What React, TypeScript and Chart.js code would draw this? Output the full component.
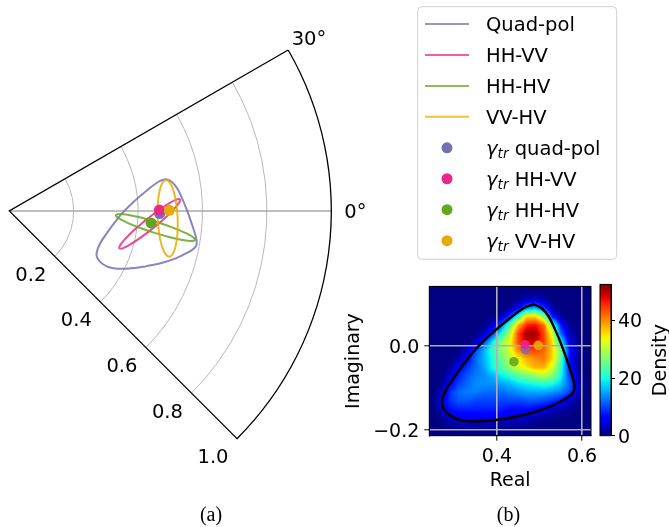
import React, { useEffect, useRef } from 'react';
import { Chart, registerables } from 'chart.js';

Chart.register(...registerables);

// ---------------- data ----------------
const SERIES_LABELS = ['Quad-pol', 'HH-VV', 'HH-HV', 'VV-HV'];
const GAMMA_LABELS = ['quad-pol', 'HH-VV', 'HH-HV', 'VV-HV'];
const SERIES_COLORS = ['#7570b3', '#e7298a', '#66a61e', '#e6ab02'];

// coherence region boundaries (real, imaginary)
const QUADPOL_RE = [0.423, 0.376, 0.336, 0.305, 0.282, 0.271, 0.275, 0.289, 0.321, 0.352, 0.391, 0.431, 0.462, 0.478, 0.489, 0.505, 0.521, 0.536, 0.552, 0.568, 0.580, 0.582, 0.576, 0.556, 0.517, 0.470, 0.423];
const QUADPOL_IM = [-0.172, -0.178, -0.179, -0.173, -0.158, -0.139, -0.116, -0.089, -0.044, -0.005, 0.033, 0.067, 0.090, 0.097, 0.098, 0.090, 0.071, 0.041, 0.002, -0.044, -0.082, -0.102, -0.114, -0.128, -0.147, -0.162, -0.172];

const HHVV_RE = [0.4253, 0.3901, 0.3619, 0.3451, 0.342, 0.3533, 0.3771, 0.4099, 0.4467, 0.4819, 0.5101, 0.5269, 0.530, 0.5187, 0.4949, 0.4621, 0.4253];
const HHVV_IM = [-0.0268, -0.0569, -0.0845, -0.1052, -0.1161, -0.1154, -0.1031, -0.0813, -0.0532, -0.0231, 0.0045, 0.0252, 0.036, 0.0354, 0.0231, 0.0013, -0.0268];

const HHHV_RE = [0.4591, 0.4117, 0.3708, 0.3425, 0.3312, 0.3385, 0.3636, 0.4023, 0.4489, 0.4963, 0.5372, 0.5655, 0.5768, 0.5695, 0.5444, 0.5057, 0.4591];
const HHHV_IM = [-0.0348, -0.0212, -0.0121, -0.0090, -0.0123, -0.0214, -0.0351, -0.0512, -0.0672, -0.0808, -0.0899, -0.0930, -0.0897, -0.0806, -0.0669, -0.0508, -0.0348];

const VVHV_RE = [0.4608, 0.4652, 0.4736, 0.4847, 0.4970, 0.5085, 0.5174, 0.5224, 0.5228, 0.5184, 0.5100, 0.4989, 0.4866, 0.4751, 0.4662, 0.4612, 0.4608];
const VVHV_IM = [-0.0241, -0.0694, -0.1078, -0.1331, -0.1417, -0.1321, -0.1058, -0.0670, -0.0213, 0.0240, 0.0624, 0.0877, 0.0963, 0.0867, 0.0604, 0.0216, -0.0241];

const GAMMA_RE = [0.467, 0.466, 0.440, 0.497];
const GAMMA_IM = [-0.008, 0.003, -0.037, 0.002];

// polar panel (a)
const R_TICKS = [0.2, 0.4, 0.6, 0.8, 1.0];
const R_TICK_LABELS = ['0.2', '0.4', '0.6', '0.8', '1.0'];
const THETA_TICKS = [0, 30];
const THETA_TICK_LABELS = ['0°', '30°'];
const THETA_MIN = -45;
const THETA_MAX = 30;
const R_MAX = 1.0;

// density panel (b)
const REAL_TICKS = [0.4, 0.6];
const REAL_TICK_LABELS = ['0.4', '0.6'];
const IMAG_TICKS = [-0.2, 0.0];
const IMAG_TICK_LABELS = ['\u22120.2', '0.0'];
const REAL_MIN = 0.241, REAL_MAX = 0.621;
const IMAG_MIN = -0.213, IMAG_MAX = 0.142;
const DENSITY_TICKS = [0, 20, 40];
const DENSITY_TICK_LABELS = ['0', '20', '40'];
const DENSITY_MAX = 52.5;

const DENS_X = [0.25, 0.27, 0.29, 0.31, 0.33, 0.35, 0.37, 0.39, 0.41, 0.43, 0.45, 0.47, 0.49, 0.51, 0.53, 0.55, 0.57, 0.59, 0.61];
const DENS_Y = [0.13, 0.11, 0.09, 0.07, 0.05, 0.03, 0.01, -0.01, -0.03, -0.05, -0.07, -0.09, -0.11, -0.13, -0.15, -0.17, -0.19, -0.21];
const DENSITY = [
  [0, 0, 0, 0, 0, 0, 0, 0, 0, 0, 0, 0, 0, 0, 0, 0, 0, 0, 0],
  [0, 0, 0, 0, 0, 0, 0, 0, 0, 0, 1, 3, 4, 2, 0, 0, 0, 0, 0],
  [0, 0, 0, 0, 0, 0, 0, 0, 0, 1, 6, 14, 16, 10, 2, 0, 0, 0, 0],
  [0, 0, 0, 0, 0, 0, 0, 0, 2, 10, 22, 36, 36, 28, 8, 1, 0, 0, 0],
  [0, 0, 0, 0, 0, 0, 0, 4, 12, 24, 38, 46, 47, 42, 25, 8, 1, 0, 0],
  [0, 0, 0, 0, 0, 0, 3, 10, 20, 30, 44, 51, 51, 44, 32, 12, 3, 0, 0],
  [0, 0, 0, 0, 0, 3, 10, 19, 27, 33, 44, 49, 49, 44, 35, 20, 5, 1, 0],
  [0, 0, 0, 0, 4, 10, 16, 22, 27, 32, 40, 44, 44, 42, 36, 26, 8, 2, 0],
  [0, 0, 0, 2, 6, 12, 16, 20, 25, 30, 34, 38, 40, 41, 36, 24, 7, 1, 0],
  [0, 0, 1, 6, 9, 12, 15, 20, 23, 28, 32, 35, 38, 38, 32, 22, 8, 1, 0],
  [0, 0, 4, 8, 11, 13, 14, 16, 19, 21, 24, 26, 28, 30, 27, 20, 10, 2, 0],
  [0, 1, 6, 10, 12, 14, 14, 14, 15, 16, 18, 19, 20, 21, 20, 17, 12, 4, 0],
  [0, 3, 9, 12, 13, 13, 12, 12, 12, 13, 14, 15, 15, 15, 14, 13, 10, 3, 0],
  [0, 5, 9, 11, 11, 10, 10, 10, 10, 10, 10, 11, 11, 10, 9, 7, 3, 1, 0],
  [0, 3, 7, 8, 8, 8, 8, 8, 8, 7, 7, 7, 6, 5, 3, 2, 1, 0, 0],
  [0, 1, 3, 5, 5, 5, 5, 5, 5, 4, 3, 3, 2, 1, 1, 0, 0, 0, 0],
  [0, 0, 1, 1, 2, 2, 2, 2, 1, 1, 1, 1, 0, 0, 0, 0, 0, 0, 0],
  [0, 0, 0, 0, 0, 0, 0, 0, 0, 0, 0, 0, 0, 0, 0, 0, 0, 0, 0],
];

// ---------------- helpers ----------------
const FONT = '"DejaVu Sans", Verdana, sans-serif';
const FS_A = 19.5;
const FS_B = 19;

function hexA(hex: string, a: number) {
  const n = parseInt(hex.slice(1), 16);
  return `rgba(${(n >> 16) & 255},${(n >> 8) & 255},${n & 255},${a})`;
}
function pts(re: number[], im: number[]) {
  return re.map((x, i) => ({ x, y: im[i] }));
}
function seg(t: number, p: number[][]) {
  for (let k = 0; k < p.length - 1; k++) {
    if (t <= p[k + 1][0]) {
      const f = (t - p[k][0]) / (p[k + 1][0] - p[k][0]);
      return p[k][1] + f * (p[k + 1][1] - p[k][1]);
    }
  }
  return p[p.length - 1][1];
}
function jet(t: number): [number, number, number] {
  t = Math.max(0, Math.min(1, t));
  return [
    seg(t, [[0, 0], [0.35, 0], [0.66, 1], [0.89, 1], [1, 0.5]]),
    seg(t, [[0, 0], [0.125, 0], [0.375, 1], [0.64, 1], [0.91, 0], [1, 0]]),
    seg(t, [[0, 0.5], [0.11, 1], [0.34, 1], [0.65, 0], [1, 0]]),
  ];
}
function centeredText(ctx: CanvasRenderingContext2D, s: string, x: number, cy: number, fs: number) {
  ctx.textAlign = 'center';
  ctx.textBaseline = 'alphabetic';
  ctx.fillText(s, x, cy + 0.365 * fs);
}

// ---------------- panel (a) plugin ----------------
const polarPlugin = {
  id: 'polarWedge',
  beforeDatasetsDraw(chart: any) {
    const ctx: CanvasRenderingContext2D = chart.ctx;
    const xs = chart.scales.x, ys = chart.scales.y;
    const cx = xs.getPixelForValue(0), cy = ys.getPixelForValue(0);
    const rp = (r: number) => xs.getPixelForValue(r) - cx;
    const a0 = (-THETA_MAX * Math.PI) / 180, a1 = (-THETA_MIN * Math.PI) / 180;
    ctx.save();
    ctx.strokeStyle = '#b8b8b8';
    ctx.lineWidth = 1;
    for (const r of R_TICKS) {
      if (r >= R_MAX) continue;
      ctx.beginPath();
      ctx.arc(cx, cy, rp(r), a0, a1, false);
      ctx.stroke();
    }
    ctx.strokeStyle = '#a8a8a8';
    ctx.lineWidth = 1.6;
    for (const t of THETA_TICKS) {
      if (t <= THETA_MIN || t >= THETA_MAX) continue;
      const a = (t * Math.PI) / 180;
      ctx.beginPath();
      ctx.moveTo(cx, cy);
      ctx.lineTo(cx + rp(R_MAX) * Math.cos(a), cy - rp(R_MAX) * Math.sin(a));
      ctx.stroke();
    }
    // wedge spines
    const R = rp(R_MAX);
    ctx.strokeStyle = '#000';
    ctx.lineWidth = 1.3;
    ctx.beginPath();
    ctx.moveTo(cx + R * Math.cos(-a0), cy + R * Math.sin(a0));
    ctx.lineTo(cx, cy);
    ctx.lineTo(cx + R * Math.cos(a1), cy + R * Math.sin(a1));
    ctx.arc(cx, cy, R, a1, a0, true);
    ctx.stroke();
    ctx.restore();
  },
  afterDraw(chart: any) {
    const ctx: CanvasRenderingContext2D = chart.ctx;
    const xs = chart.scales.x, ys = chart.scales.y;
    const cx = xs.getPixelForValue(0), cy = ys.getPixelForValue(0);
    const rp = (r: number) => xs.getPixelForValue(r) - cx;
    ctx.save();
    ctx.fillStyle = '#000';
    ctx.font = `${FS_A}px ${FONT}`;
    // radial tick labels along the lower edge
    const am = (THETA_MIN * Math.PI) / 180;
    R_TICKS.forEach((r, i) => {
      const px = cx + rp(r) * Math.cos(am) - 24;
      const py = cy - rp(r) * Math.sin(am) + 17.3;
      centeredText(ctx, R_TICK_LABELS[i], px, py, FS_A);
    });
    // angular labels
    THETA_TICKS.forEach((t, i) => {
      const a = (t * Math.PI) / 180;
      const d = rp(R_MAX) + 24;
      centeredText(ctx, THETA_TICK_LABELS[i], cx + d * Math.cos(a), cy - d * Math.sin(a), FS_A);
    });

    // legend
    const LX = 417.7, LY = 6.7, LW = 199, LH = 252.6;
    ctx.beginPath();
    if ((ctx as any).roundRect) (ctx as any).roundRect(LX, LY, LW, LH, 4);
    else ctx.rect(LX, LY, LW, LH);
    ctx.fillStyle = 'rgba(255,255,255,0.8)';
    ctx.fill();
    ctx.strokeStyle = '#d0d0d0';
    ctx.lineWidth = 1;
    ctx.stroke();
    const y0 = 24, pitch = 30.95, tx = 486;
    ctx.textAlign = 'left';
    ctx.textBaseline = 'alphabetic';
    SERIES_LABELS.forEach((lab, i) => {
      const y = y0 + i * pitch;
      ctx.strokeStyle = hexA(SERIES_COLORS[i], 0.75);
      ctx.lineWidth = 2;
      ctx.beginPath();
      ctx.moveTo(425, y);
      ctx.lineTo(469, y);
      ctx.stroke();
      ctx.fillStyle = '#000';
      ctx.font = `${FS_A}px ${FONT}`;
      ctx.fillText(lab, tx, y + 7.3);
    });
    GAMMA_LABELS.forEach((lab, i) => {
      const y = y0 + (i + 4) * pitch;
      ctx.fillStyle = SERIES_COLORS[i];
      ctx.beginPath();
      ctx.arc(447, y, 5.5, 0, Math.PI * 2);
      ctx.fill();
      ctx.fillStyle = '#000';
      let x = tx;
      ctx.font = `italic ${FS_A}px ${FONT}`;
      ctx.fillText('γ', x, y + 7.3);
      x += ctx.measureText('γ').width;
      ctx.font = `italic ${FS_A * 0.7}px ${FONT}`;
      ctx.fillText('tr', x, y + 10.3);
      x += ctx.measureText('tr').width;
      ctx.font = `${FS_A}px ${FONT}`;
      ctx.fillText(' ' + lab, x, y + 7.3);
    });

    // captions
    ctx.font = `20px "Liberation Serif", "Times New Roman", serif`;
    ctx.textAlign = 'center';
    ctx.fillText('(a)', 211, 521);
    ctx.fillText('(b)', 508.5, 521);
    ctx.restore();
  },
};

// ---------------- panel (b) plugin ----------------
const heatmapPlugin = {
  id: 'densityMap',
  beforeDraw(chart: any) {
    const ctx: CanvasRenderingContext2D = chart.ctx;
    const ca = chart.chartArea;
    const xs = chart.scales.x, ys = chart.scales.y;
    const W = ca.right - ca.left, H = ca.bottom - ca.top;
    const w = Math.max(1, Math.round(W)), h = Math.max(1, Math.round(H));
    const off = document.createElement('canvas');
    off.width = w;
    off.height = h;
    const octx = off.getContext('2d')!;
    const img = octx.createImageData(w, h);
    const nx = DENS_X.length, ny = DENS_Y.length;
    const dx = DENS_X[1] - DENS_X[0], dy = DENS_Y[1] - DENS_Y[0];
    for (let j = 0; j < h; j++) {
      const yv = ys.getValueForPixel(ca.top + ((j + 0.5) * H) / h);
      let fy = Math.max(0, Math.min(ny - 1, (yv - DENS_Y[0]) / dy));
      const j0 = Math.min(Math.floor(fy), ny - 2);
      const ty = fy - j0;
      for (let i = 0; i < w; i++) {
        const xv = xs.getValueForPixel(ca.left + ((i + 0.5) * W) / w);
        let fx = Math.max(0, Math.min(nx - 1, (xv - DENS_X[0]) / dx));
        const i0 = Math.min(Math.floor(fx), nx - 2);
        const tx = fx - i0;
        const v =
          (1 - ty) * ((1 - tx) * DENSITY[j0][i0] + tx * DENSITY[j0][i0 + 1]) +
          ty * ((1 - tx) * DENSITY[j0 + 1][i0] + tx * DENSITY[j0 + 1][i0 + 1]);
        const [r, g, b] = jet(v / DENSITY_MAX);
        const k = (j * w + i) * 4;
        img.data[k] = Math.round(r * 255);
        img.data[k + 1] = Math.round(g * 255);
        img.data[k + 2] = Math.round(b * 255);
        img.data[k + 3] = 255;
      }
    }
    octx.putImageData(img, 0, 0);
    ctx.drawImage(off, ca.left, ca.top, W, H);
  },
  afterDraw(chart: any) {
    const ctx: CanvasRenderingContext2D = chart.ctx;
    const ca = chart.chartArea;
    ctx.save();
    ctx.strokeStyle = '#000';
    ctx.lineWidth = 1;
    ctx.strokeRect(ca.left, ca.top, ca.right - ca.left, ca.bottom - ca.top);
    ctx.restore();
  },
};

// ---------------- colorbar plugin ----------------
const colorbarPlugin = {
  id: 'colorbar',
  beforeDatasetsDraw(chart: any) {
    const ctx: CanvasRenderingContext2D = chart.ctx;
    const ca = chart.chartArea;
    const grad = ctx.createLinearGradient(0, ca.bottom, 0, ca.top);
    for (let k = 0; k <= 40; k++) {
      const [r, g, b] = jet(k / 40);
      grad.addColorStop(k / 40, `rgb(${Math.round(r * 255)},${Math.round(g * 255)},${Math.round(b * 255)})`);
    }
    ctx.save();
    ctx.fillStyle = grad;
    ctx.fillRect(ca.left, ca.top, ca.right - ca.left, ca.bottom - ca.top);
    ctx.restore();
  },
  afterDraw(chart: any) {
    const ctx: CanvasRenderingContext2D = chart.ctx;
    const ca = chart.chartArea;
    ctx.save();
    ctx.strokeStyle = '#000';
    ctx.lineWidth = 1;
    ctx.strokeRect(ca.left, ca.top, ca.right - ca.left, ca.bottom - ca.top);
    ctx.fillStyle = '#000';
    ctx.font = `${FS_B}px ${FONT}`;
    ctx.translate(69.5, (ca.top + ca.bottom) / 2);
    ctx.rotate(-Math.PI / 2);
    ctx.textAlign = 'center';
    ctx.textBaseline = 'alphabetic';
    ctx.fillText('Density', 0, 0);
    ctx.restore();
  },
};

// ---------------- component ----------------
export default function App() {
  const aRef = useRef<HTMLCanvasElement>(null);
  const bRef = useRef<HTMLCanvasElement>(null);
  const cRef = useRef<HTMLCanvasElement>(null);

  useEffect(() => {
    document.body.style.margin = '0';
    document.body.style.overflow = 'hidden';

    const curves = [
      [QUADPOL_RE, QUADPOL_IM],
      [HHVV_RE, HHVV_IM],
      [HHHV_RE, HHHV_IM],
      [VVHV_RE, VVHV_IM],
    ];

    const dotSets = (radius: number, alpha: number) =>
      GAMMA_RE.map((x, i) => ({
        label: 'γtr ' + GAMMA_LABELS[i],
        data: [{ x, y: GAMMA_IM[i] }],
        showLine: false,
        pointRadius: radius,
        pointHoverRadius: radius,
        pointBackgroundColor: hexA(SERIES_COLORS[i], alpha),
        pointBorderWidth: 0,
        borderWidth: 0,
        order: 0.4 - i * 0.1,
      }));

    const chartA = new Chart(aRef.current!, {
      type: 'scatter',
      data: {
        datasets: [
          ...dotSets(5.5, 1),
          ...curves.map(([re, im], i) => ({
            label: SERIES_LABELS[i],
            data: pts(re, im),
            showLine: true,
            pointRadius: 0,
            pointHoverRadius: 0,
            borderColor: hexA(SERIES_COLORS[i], 0.85),
            borderWidth: 2,
            tension: 0.4,
            fill: false,
            order: 4 - i,
          })),
        ],
      } as any,
      options: {
        responsive: false,
        animation: false,
        devicePixelRatio: 1,
        events: [],
        layout: { padding: { left: 9.3, right: 669 - 363.5, top: 17.8, bottom: 527 - 468.6 } },
        scales: {
          x: { type: 'linear', display: false, min: 0, max: 1.1 },
          y: { type: 'linear', display: false, min: -0.8, max: 0.6 },
        },
        plugins: { legend: { display: false }, tooltip: { enabled: false } },
      } as any,
      plugins: [polarPlugin],
    });

    const tickFont = { family: FONT, size: FS_B };
    const chartB = new Chart(bRef.current!, {
      type: 'scatter',
      data: {
        datasets: [
          ...dotSets(4.8, 0.9),
          {
            label: 'boundary',
            data: pts(QUADPOL_RE, QUADPOL_IM),
            showLine: true,
            pointRadius: 0,
            pointHoverRadius: 0,
            borderColor: '#000',
            borderWidth: 2.4,
            tension: 0.4,
            fill: false,
            order: 2,
          },
        ],
      } as any,
      options: {
        responsive: false,
        animation: false,
        devicePixelRatio: 1,
        events: [],
        layout: { padding: { left: 0, right: 12, top: 10.7, bottom: 0 } },
        scales: {
          x: {
            type: 'linear',
            min: REAL_MIN,
            max: REAL_MAX,
            afterBuildTicks: (s: any) => {
              s.ticks = REAL_TICKS.map((v) => ({ value: v }));
            },
            afterFit: (s: any) => {
              s.height = 56.3;
            },
            ticks: {
              font: tickFont,
              color: '#000',
              padding: 4.5,
              maxRotation: 0,
              autoSkip: false,
              callback: (_v: any, i: number) => REAL_TICK_LABELS[i],
            },
            grid: { color: '#b0b0b0', lineWidth: 1.6, tickColor: '#000', tickLength: 5, tickWidth: 1 },
            border: { display: true, color: '#000', width: 1 },
            title: { display: true, text: 'Real', font: tickFont, color: '#000', padding: 0 },
          },
          y: {
            type: 'linear',
            min: IMAG_MIN,
            max: IMAG_MAX,
            afterBuildTicks: (s: any) => {
              s.ticks = IMAG_TICKS.map((v) => ({ value: v }));
            },
            afterFit: (s: any) => {
              s.width = 86.3;
            },
            ticks: {
              font: tickFont,
              color: '#000',
              padding: 5,
              labelOffset: 2,
              autoSkip: false,
              callback: (_v: any, i: number) => IMAG_TICK_LABELS[i],
            },
            grid: { color: '#b0b0b0', lineWidth: 1.6, tickColor: '#000', tickLength: 5, tickWidth: 1 },
            border: { display: true, color: '#000', width: 1 },
            title: { display: true, text: 'Imaginary', font: tickFont, color: '#000', padding: 0 },
          },
        },
        plugins: { legend: { display: false }, tooltip: { enabled: false } },
      } as any,
      plugins: [heatmapPlugin],
    });

    const chartC = new Chart(cRef.current!, {
      type: 'scatter',
      data: { datasets: [] },
      options: {
        responsive: false,
        animation: false,
        devicePixelRatio: 1,
        events: [],
        layout: { padding: { left: 4, right: 0, top: 10.7, bottom: 56.3 } },
        scales: {
          x: { type: 'linear', display: false, min: 0, max: 1 },
          y: {
            type: 'linear',
            position: 'right',
            min: 0,
            max: DENSITY_MAX,
            afterBuildTicks: (s: any) => {
              s.ticks = DENSITY_TICKS.map((v) => ({ value: v }));
            },
            afterFit: (s: any) => {
              s.width = 58;
            },
            ticks: {
              font: tickFont,
              color: '#000',
              padding: 3,
              labelOffset: 2,
              autoSkip: false,
              callback: (_v: any, i: number) => DENSITY_TICK_LABELS[i],
            },
            grid: { drawOnChartArea: false, tickColor: '#000', tickLength: 4, tickWidth: 1 },
            border: { display: true, color: '#000', width: 1 },
          },
        },
        plugins: { legend: { display: false }, tooltip: { enabled: false } },
      } as any,
      plugins: [colorbarPlugin],
    });

    return () => {
      chartA.destroy();
      chartB.destroy();
      chartC.destroy();
    };
  }, []);

  return (
    <div style={{ position: 'relative', width: 669, height: 527, overflow: 'hidden', background: '#fff' }}>
      <canvas ref={aRef} width={669} height={527} style={{ position: 'absolute', left: 0, top: 0, width: 669, height: 527 }} />
      <canvas ref={bRef} width={260} height={222} style={{ position: 'absolute', left: 343, top: 270, width: 260, height: 222 }} />
      <canvas ref={cRef} width={73} height={222} style={{ position: 'absolute', left: 596, top: 270, width: 73, height: 222 }} />
    </div>
  );
}
